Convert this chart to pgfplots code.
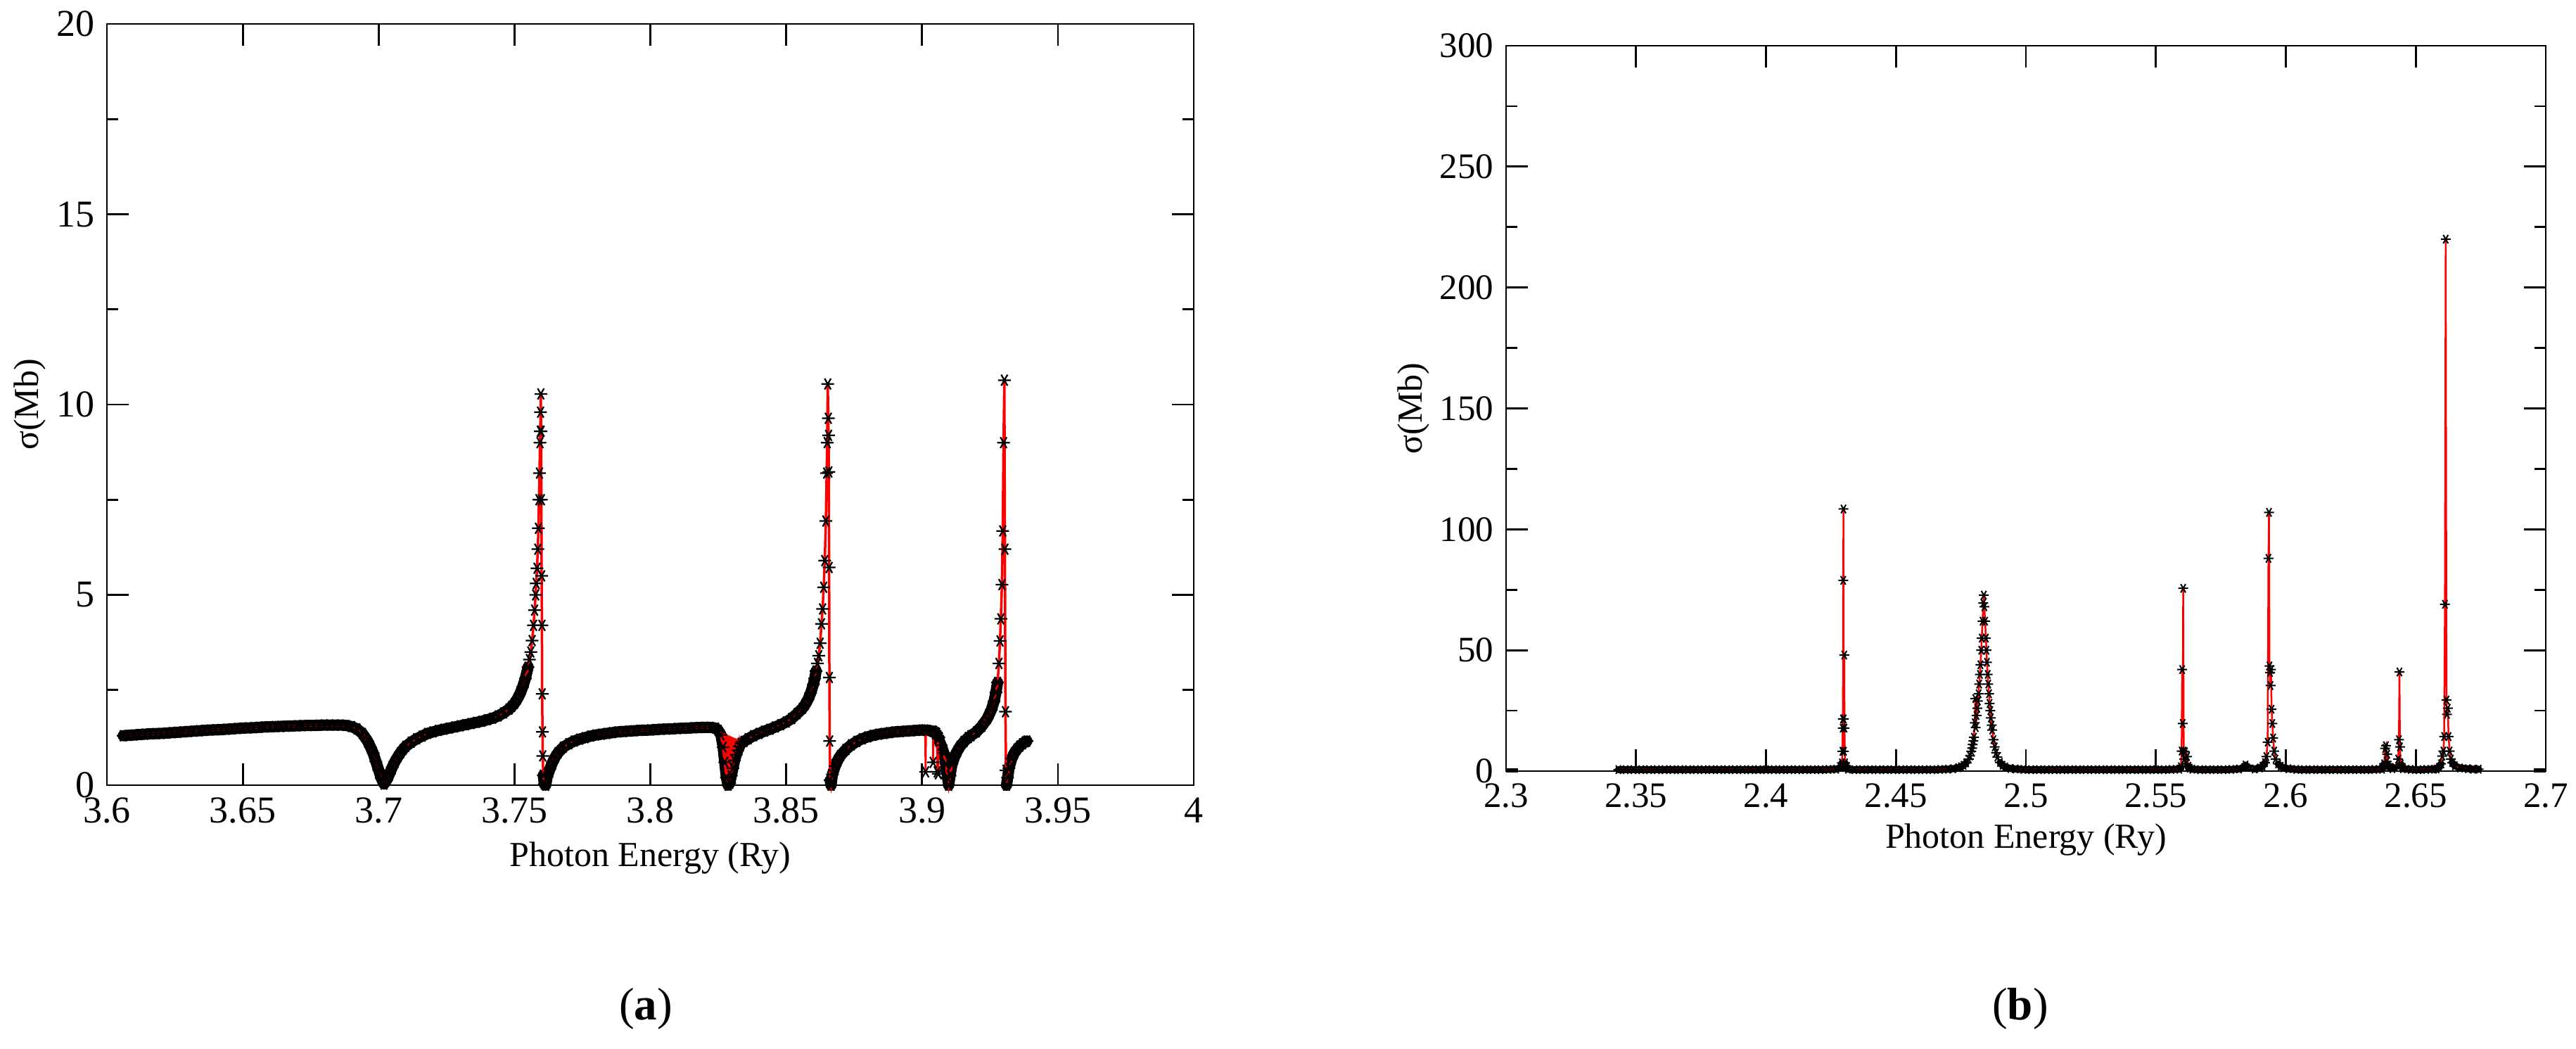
\documentclass[border=0pt]{standalone}
\usepackage{fontspec}
\setmainfont{Liberation Serif}
\usepackage{pgfplots}
\usepackage{pgfplotstable}
\pgfplotsset{compat=1.18}

% main curve, panel (a)
\pgfplotstableread{
x y
3.606 1.30
3.608 1.31
3.610 1.32
3.612 1.33
3.614 1.34
3.616 1.35
3.618 1.355
3.620 1.36
3.622 1.37
3.624 1.38
3.626 1.39
3.628 1.40
3.630 1.41
3.632 1.42
3.634 1.43
3.636 1.44
3.638 1.45
3.640 1.455
3.642 1.46
3.644 1.47
3.646 1.48
3.648 1.49
3.650 1.50
3.652 1.505
3.654 1.51
3.656 1.52
3.658 1.53
3.660 1.535
3.662 1.54
3.664 1.545
3.666 1.55
3.668 1.555
3.670 1.56
3.672 1.565
3.674 1.57
3.676 1.57
3.678 1.575
3.680 1.58
3.682 1.58
3.684 1.58
3.686 1.58
3.688 1.57
3.690 1.54
3.692 1.48
3.694 1.36
3.696 1.15
3.697 1.00
3.698 0.84
3.699 0.62
3.700 0.40
3.701 0.18
3.702 0.03
3.703 0.14
3.704 0.30
3.705 0.47
3.706 0.62
3.707 0.74
3.708 0.85
3.709 0.94
3.710 1.02
3.712 1.13
3.714 1.22
3.716 1.29
3.718 1.36
3.720 1.40
3.722 1.44
3.724 1.47
3.726 1.50
3.728 1.53
3.730 1.56
3.732 1.59
3.734 1.62
3.736 1.65
3.738 1.68
3.740 1.72
3.742 1.76
3.744 1.82
3.746 1.90
3.748 2.00
3.749 2.07
3.750 2.15
3.751 2.26
3.752 2.40
3.753 2.58
3.754 2.80
3.755 3.10
3.7555 3.30
3.756 3.50
3.7565 3.80
3.757 4.20
3.7574 4.60
3.7578 5.00
3.758 5.30
3.7583 5.70
3.7586 6.20
3.7588 6.75
3.759 7.50
3.7592 8.20
3.7594 9.00
3.7595 9.30
3.7596 9.80
3.7597 10.28
3.7598 9.30
3.7599 7.50
3.7600 5.50
3.7601 4.20
3.7602 2.40
3.7603 1.40
3.7604 0.77
3.7606 0.26
3.7610 0.03
3.7615 0.00
3.762 0.22
3.763 0.42
3.764 0.60
3.765 0.74
3.766 0.85
3.768 1.00
3.770 1.09
3.772 1.16
3.774 1.21
3.776 1.25
3.778 1.29
3.780 1.32
3.782 1.34
3.784 1.36
3.786 1.38
3.788 1.40
3.790 1.41
3.792 1.42
3.794 1.43
3.796 1.44
3.798 1.445
3.800 1.45
3.802 1.46
3.804 1.47
3.806 1.475
3.808 1.48
3.810 1.49
3.812 1.495
3.814 1.50
3.816 1.51
3.818 1.515
3.820 1.52
3.822 1.52
3.824 1.50
3.825 1.44
3.826 1.32
3.8268 1.00
3.8274 0.60
3.8280 0.20
3.8286 0.00
3.8292 0.05
3.8298 0.25
3.8304 0.45
3.8310 0.65
3.8316 0.80
3.8322 0.92
3.8328 1.02
3.8334 1.10
3.8345 1.15
3.836 1.22
3.838 1.30
3.840 1.36
3.842 1.42
3.844 1.47
3.846 1.53
3.848 1.59
3.850 1.66
3.852 1.75
3.854 1.88
3.856 2.02
3.857 2.12
3.858 2.25
3.859 2.42
3.860 2.65
3.8605 2.80
3.861 3.00
3.8615 3.20
3.862 3.40
3.8625 3.73
3.863 4.24
3.8634 4.63
3.8638 5.20
3.8642 5.90
3.8646 6.94
3.8649 8.20
3.8651 9.00
3.8653 10.54
3.8655 9.64
3.8656 9.19
3.8657 8.23
3.8658 5.72
3.8659 2.83
3.8660 1.16
3.8662 0.13
3.8665 0.00
3.867 0.28
3.868 0.50
3.869 0.66
3.870 0.78
3.872 0.94
3.874 1.06
3.876 1.15
3.878 1.22
3.880 1.27
3.882 1.31
3.884 1.34
3.886 1.36
3.888 1.38
3.890 1.40
3.892 1.41
3.894 1.42
3.896 1.43
3.898 1.44
3.900 1.45
3.902 1.44
3.904 1.42
3.905 1.38
3.906 1.22
3.907 1.05
3.908 0.85
3.9088 0.55
3.9094 0.20
3.9098 0.00
3.9103 0.25
3.911 0.55
3.912 0.75
3.913 0.90
3.914 1.02
3.9155 1.15
3.917 1.25
3.918 1.30
3.920 1.40
3.922 1.55
3.924 1.75
3.9255 1.98
3.9265 2.20
3.9272 2.44
3.9278 2.70
3.9283 3.20
3.9287 3.79
3.929 4.37
3.9294 5.27
3.9297 6.68
3.9300 9.00
3.9303 10.64
3.9305 6.20
3.9307 1.93
3.9309 0.39
3.9311 0.00
3.9315 0.20
3.932 0.45
3.933 0.70
3.934 0.85
3.935 0.95
3.936 1.03
3.937 1.09
3.938 1.14
3.9386 1.16
}\dataA

% rapid oscillations inside the 3.83 dip
\pgfplotstableread{
x y
3.8262 1.40
3.8265 1.20
3.8268 1.38
3.8271 0.80
3.8274 1.36
3.8277 0.40
3.8280 1.34
3.8283 0.05
3.8286 1.32
3.8289 0.00
3.8292 1.30
3.8295 0.15
3.8298 1.28
3.8301 0.35
3.8304 1.26
3.8307 0.55
3.8310 1.24
3.8313 0.72
3.8316 1.22
3.8319 0.86
3.8322 1.20
3.8325 0.97
3.8328 1.18
3.8331 1.06
3.8334 1.16
}\dataZ

% narrow spikes near 3.90
\pgfplotstableread{
x y
3.9011 1.45
3.9013 0.35
3.9015 1.44
}\dataSa
\pgfplotstableread{
x y
3.9039 1.42
3.9041 0.60
3.9043 1.41
}\dataSb
\pgfplotstableread{
x y
3.9054 1.36
3.9056 0.35
3.9058 1.30
3.9060 0.30
3.9062 1.26
}\dataSc

% panel (b)
\pgfplotstableread{
x y
2.3432 0.6
2.346 0.6
2.349 0.6
2.352 0.6
2.355 0.6
2.358 0.6
2.361 0.6
2.364 0.6
2.367 0.6
2.370 0.6
2.373 0.6
2.376 0.6
2.379 0.6
2.382 0.6
2.385 0.6
2.388 0.6
2.391 0.6
2.394 0.6
2.397 0.6
2.400 0.6
2.403 0.6
2.406 0.6
2.409 0.6
2.412 0.6
2.415 0.6
2.418 0.6
2.421 0.6
2.424 0.7
2.427 0.8
2.4288 1.5
2.4292 3.4
2.4294 8.2
2.4295 17.8
2.4296 21.6
2.4297 78.9
2.4298 108.4
2.4299 21.6
2.4300 8.2
2.4301 48.0
2.4302 17.8
2.4304 3.4
2.4308 1.5
2.4315 0.8
2.434 0.6
2.437 0.6
2.440 0.6
2.443 0.6
2.446 0.6
2.449 0.6
2.452 0.6
2.455 0.6
2.458 0.6
2.461 0.6
2.464 0.6
2.467 0.7
2.470 0.8
2.472 1.0
2.474 1.4
2.475 1.8
2.476 2.4
2.477 3.4
2.478 5.0
2.4785 6.3
2.479 8.2
2.4793 9.5
2.4795 11.0
2.4798 12.5
2.480 14.0
2.4803 20.0
2.4805 30.0
2.4807 18.0
2.481 23.0
2.4813 26.0
2.4815 29.0
2.4818 32.0
2.482 36.0
2.4823 40.0
2.4825 44.0
2.4828 50.0
2.483 55.0
2.4833 62.0
2.4836 69.5
2.4838 72.8
2.4840 68.0
2.4843 62.0
2.4846 55.0
2.4848 50.0
2.485 45.0
2.4853 40.0
2.4855 36.0
2.4858 32.0
2.486 28.0
2.4863 25.0
2.4865 22.0
2.4868 19.0
2.487 17.0
2.4875 13.0
2.488 10.0
2.4885 7.6
2.489 5.8
2.490 3.6
2.491 2.4
2.492 1.7
2.494 1.1
2.496 0.9
2.499 0.7
2.502 0.6
2.505 0.6
2.508 0.6
2.511 0.6
2.514 0.6
2.517 0.6
2.520 0.6
2.523 0.6
2.526 0.6
2.529 0.6
2.532 0.6
2.535 0.6
2.538 0.6
2.541 0.6
2.544 0.6
2.547 0.6
2.550 0.6
2.553 0.6
2.556 0.7
2.5590 0.8
2.5596 1.8
2.5599 8.3
2.5601 42.0
2.5603 19.7
2.5605 75.6
2.5607 8.3
2.5609 5.0
2.5612 8.0
2.5615 3.0
2.5620 6.0
2.5625 2.0
2.5630 1.2
2.5640 0.8
2.567 0.6
2.570 0.6
2.573 0.6
2.576 0.6
2.579 0.7
2.582 0.9
2.5840 1.5
2.5845 2.5
2.5850 1.5
2.5880 0.9
2.5900 1.3
2.5910 2.0
2.5920 3.5
2.5925 6.0
2.5930 12.0
2.5933 88.0
2.5935 107.0
2.5937 43.5
2.5939 40.8
2.5941 35.4
2.5943 42.0
2.5945 25.6
2.5948 19.7
2.5951 13.7
2.5955 8.3
2.5960 5.0
2.5970 3.0
2.5980 2.0
2.5990 1.4
2.6010 1.0
2.604 0.7
2.607 0.6
2.610 0.6
2.613 0.6
2.616 0.6
2.619 0.6
2.622 0.6
2.625 0.6
2.628 0.6
2.631 0.6
2.634 0.7
2.6370 0.8
2.6378 3.0
2.6382 9.4
2.6385 10.5
2.6388 4.0
2.6390 7.0
2.6393 2.5
2.6400 1.5
2.6410 1.0
2.6420 1.5
2.6432 5.0
2.6435 13.0
2.6437 41.0
2.6439 10.0
2.6442 3.0
2.6450 1.0
2.648 0.7
2.651 0.6
2.654 0.7
2.6570 0.8
2.6580 0.9
2.6590 1.5
2.6597 3.0
2.6602 6.2
2.6606 8.3
2.6609 14.3
2.6612 69.0
2.6615 220.0
2.6618 29.4
2.6620 23.5
2.6623 26.0
2.6626 14.3
2.6630 8.3
2.6635 5.0
2.6640 3.5
2.6650 2.2
2.6670 1.3
2.6700 1.0
2.6720 0.8
2.6742 0.8
}\dataB

\pgfplotsset{
  gracestyle/.style={
    scale only axis,
    axis line style={line width=0.55pt},
    every tick/.style={line width=0.55pt, black},
    tick align=inside,
    major tick length=6.2pt,
    minor tick length=3.2pt,
    minor x tick num=0,
    minor y tick num=1,
    clip=false,
    /pgf/number format/assume math mode=true,
  },
  bandA/.style={black, line width=3.2pt, line join=round, line cap=round, no marks, unbounded coords=jump},
  starsA/.style={only marks, black, mark=asterisk, mark size=1.8pt, mark options={rotate=90, line width=0.45pt}},
  starsB/.style={only marks, black, mark=asterisk, mark size=1.4pt, mark options={rotate=90, line width=0.4pt}},
  redA/.style={red, line width=0.7pt, no marks},
}

\begin{document}
\begin{tikzpicture}
\path[use as bounding box] (0pt,0pt) rectangle (732.4pt,-298pt);

\begin{axis}[gracestyle,
  at={(30.4pt,-223.2pt)}, anchor=south west,
  width=309pt, height=216.4pt,
  xmin=3.6, xmax=4, ymin=0, ymax=20,
  xtick={3.6,3.65,3.7,3.75,3.8,3.85,3.9,3.95,4},
  xticklabels={3.6,3.65,3.7,3.75,3.8,3.85,3.9,3.95,4},
  ytick={0,5,10,15,20},
  yticklabels={0,5,10,15,20},
  ticklabel style={font=\fontsize{10.8}{12}\selectfont},
  xlabel={Photon Energy (Ry)},
  ylabel={σ(Mb)},
  label style={font=\fontsize{11.3}{13}\selectfont},
  every axis x label/.style={at={(axis description cs:0.5,0)}, anchor=base, yshift=-23pt},
  every axis y label/.style={at={(axis description cs:-0.0712,0.5)}, rotate=90, anchor=center},
]
% dense band of overlapping points on the slowly varying parts
\addplot[bandA, restrict x to domain=3.6:3.7597, restrict y to domain=0:3.1] table {\dataA};
\addplot[bandA, restrict x to domain=3.7605:3.8653, restrict y to domain=0:3.0] table {\dataA};
\addplot[bandA, restrict x to domain=3.8661:3.9303, restrict y to domain=0:2.8] table {\dataA};
\addplot[bandA, restrict x to domain=3.9310:3.94] table {\dataA};
\addplot[starsA] table {\dataA};
\addplot[starsA] table {\dataSa};
\addplot[starsA] table {\dataSb};
\addplot[starsA] table {\dataSc};
\addplot[redA] table {\dataA};
\addplot[red, line width=0.5pt, no marks] table {\dataZ};
\addplot[red, line width=0.5pt, no marks] table {\dataSa};
\addplot[red, line width=0.5pt, no marks] table {\dataSb};
\addplot[red, line width=0.5pt, no marks] table {\dataSc};
\end{axis}

\begin{axis}[gracestyle,
  at={(428.2pt,-219.2pt)}, anchor=south west,
  width=295.6pt, height=206.2pt,
  xmin=2.3, xmax=2.7, ymin=0, ymax=300,
  xtick={2.3,2.35,2.4,2.45,2.5,2.55,2.6,2.65,2.7},
  xticklabels={2.3,2.35,2.4,2.45,2.5,2.55,2.6,2.65,2.7},
  ytick={0,50,100,150,200,250,300},
  yticklabels={0,50,100,150,200,250,300},
  ticklabel style={font=\fontsize{10.2}{12}\selectfont},
  xlabel={Photon Energy (Ry)},
  ylabel={σ(Mb)},
  label style={font=\fontsize{10.8}{12}\selectfont},
  every axis x label/.style={at={(axis description cs:0.5,0)}, anchor=base, yshift=-21.8pt},
  every axis y label/.style={at={(axis description cs:-0.0893,0.5)}, rotate=90, anchor=center},
]
\addplot[black, line width=1.2pt, no marks] coordinates {(2.3,0.4) (2.3045,0.4)};
\addplot[black, line width=1.2pt, no marks] coordinates {(2.6955,0.4) (2.7,0.4)};
\addplot[black, line width=2.0pt, line join=round, line cap=round, no marks, restrict y to domain=0:4, unbounded coords=jump] table {\dataB};
\addplot[starsB] table {\dataB};
\addplot[red, line width=0.5pt, no marks] table {\dataB};
\end{axis}

\node[font=\fontsize{13}{15}\selectfont] at (183.6pt,-286.8pt) {(\textbf{a})};
\node[font=\fontsize{13}{15}\selectfont] at (574.4pt,-286.8pt) {(\textbf{b})};
\end{tikzpicture}
\end{document}
